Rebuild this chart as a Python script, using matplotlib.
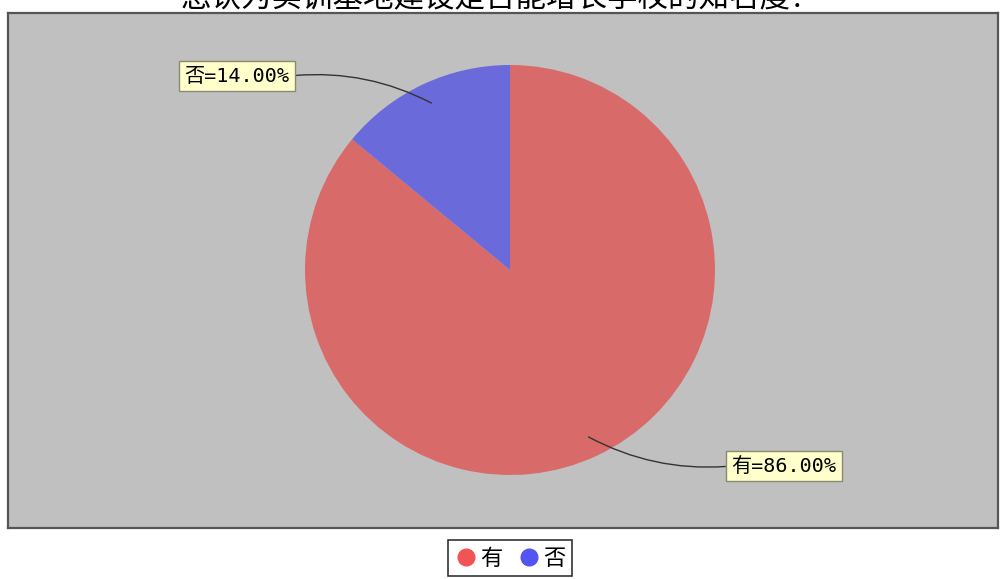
import matplotlib.pyplot as plt
from matplotlib.lines import Line2D
import numpy as np

plt.rcParams['font.family'] = ['Noto Sans CJK SC', 'DejaVu Sans']

# Data
title = "您认为实训基地建设是否能增长学校的知名度？"
categories = ["有", "否"]
shares = [86.0, 14.0]
slice_colors = ["#D96A6A", "#6A6ADA"]
legend_colors = ["#F05454", "#5454F0"]

W, H = 1003, 579
fig = plt.figure(figsize=(W / 100, H / 100), dpi=100)
fig.patch.set_facecolor("white")

# plot area in pixel units (y measured from the bottom)
left, right, top, bottom = 8, 998, 13, 528
ax = fig.add_axes([left / W, 1 - bottom / H, (right - left) / W, (bottom - top) / H])
ax.set_facecolor("#C0C0C0")

cx, cy, r = 510, H - 270, 205
wedges, _ = ax.pie(shares, colors=slice_colors, startangle=90, counterclock=False,
                   center=(cx, cy), radius=r, frame=True,
                   wedgeprops=dict(linewidth=0))
ax.set_xlim(left, right)
ax.set_ylim(H - bottom, H - top)
ax.set_aspect("auto")
ax.set_xticks([])
ax.set_yticks([])
for s in ax.spines.values():
    s.set_color("#555555")
    s.set_linewidth(1.6)

# labels with curved leader lines
label_pos = {"有": (784, H - 466), "否": (237, H - 76)}
for w, cat, val in zip(wedges, categories, shares):
    mid = np.deg2rad((w.theta1 + w.theta2) / 2)
    px, py = cx + 0.9 * r * np.cos(mid), cy + 0.9 * r * np.sin(mid)
    tx, ty = label_pos[cat]
    on_left = tx < cx
    ax.annotate(f"{cat}={val:.2f}%", xy=(px, py), xytext=(tx, ty),
                ha="center", va="center", fontsize=14.5,
                family=["DejaVu Sans Mono", "Noto Sans CJK SC"],
                bbox=dict(boxstyle="square,pad=0.28", fc="#FFFFCC", ec="#8A8A70", lw=1),
                arrowprops=dict(arrowstyle="-", color="#333333", lw=1,
                                relpos=(1, 0.5) if on_left else (0, 0.5),
                                shrinkA=0, shrinkB=0,
                                connectionstyle="arc3,rad=-0.15"))

fig.text(0.5, 1 - 14 / H, title, ha="center", va="bottom", fontsize=22)

handles = [Line2D([], [], marker="o", linestyle="", markersize=12,
                  markerfacecolor=c, markeredgecolor=c) for c in legend_colors]
leg = fig.legend(handles, categories, loc="upper center", bbox_to_anchor=(510 / W, 1 - 540 / H),
                 ncol=2, fontsize=16, frameon=True, fancybox=False, handletextpad=0.15,
                 columnspacing=0.7, handlelength=1.0, borderpad=0.3, borderaxespad=0)
leg.get_frame().set_edgecolor("black")
leg.get_frame().set_linewidth(1.2)

fig.savefig("out.png", dpi=100)
